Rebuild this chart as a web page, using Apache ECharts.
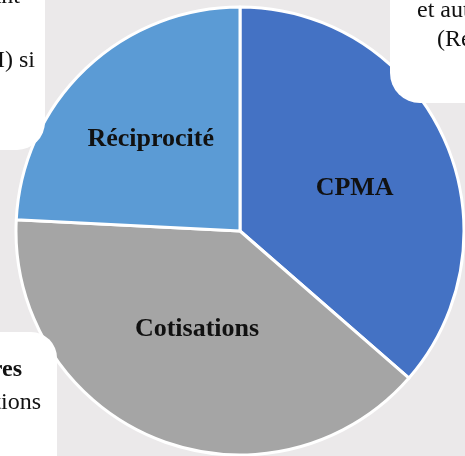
<!DOCTYPE html>
<html>
<head>
<meta charset="utf-8">
<script src="https://cdn.jsdelivr.net/npm/echarts@6/dist/echarts.min.js"></script>
<style>
  html, body { margin: 0; padding: 0; background: #ebe9ea; }
  #chart { width: 465px; height: 456px; }
</style>
</head>
<body>
<div id="chart"></div>
<script>
// parts of the pie (%)
var categories = ['CPMA', 'Cotisations', 'Réciprocité'];
var shares = [36.4, 39.4, 24.2];
var colors = ['#4472C4', '#A5A5A5', '#5B9BD5'];

var chart = echarts.init(document.getElementById('chart'));

var pieData = [];
for (var i = 0; i < categories.length; i++) {
    pieData.push({ name: categories[i], value: shares[i], itemStyle: { color: colors[i] } });
}
// nudge the inner labels to where they sit in the original
pieData[0].label = { offset: [10, 5] };
pieData[1].label = { offset: [0, -8] };
pieData[2].label = { offset: [-10, -8] };

var serif = 'Liberation Serif';

function boxText(x, y, txt, align, bold) {
    return {
        type: 'text', z: 11, x: x, y: y,
        style: {
            text: txt, align: align, fill: '#111111',
            fontFamily: serif, fontSize: 24, fontWeight: bold ? 'bold' : 'normal'
        }
    };
}

var option = {
    backgroundColor: '#ebe9ea',
    animation: false,
    series: [{
        type: 'pie',
        center: [240, 231],
        radius: 224,
        startAngle: 90,
        clockwise: true,
        data: pieData,
        itemStyle: { borderColor: '#ffffff', borderWidth: 3 },
        label: {
            show: true,
            position: 'inner',
            formatter: '{b}',
            color: '#111111',
            fontFamily: serif,
            fontWeight: 'bold',
            fontSize: 26
        },
        labelLine: { show: false },
        z: 1
    }],
    // callout boxes that overlap the chart, cut by the frame
    graphic: [
        {
            type: 'rect', z: 10,
            shape: { x: -120, y: -30, width: 165, height: 180, r: [0, 0, 28, 0] },
            style: { fill: '#ffffff' }
        },
        boxText(20, -15, 'Montant', 'right'),
        boxText(35, 49, '(RAMI) si', 'right'),
        {
            type: 'rect', z: 10,
            shape: { x: 390, y: -30, width: 120, height: 133, r: [0, 0, 0, 30] },
            style: { fill: '#ffffff' }
        },
        boxText(417, -1, 'et autres', 'left'),
        boxText(437, 28, '(Régime', 'left'),
        {
            type: 'rect', z: 10,
            shape: { x: -120, y: 332, width: 177, height: 160, r: [0, 26, 0, 0] },
            style: { fill: '#ffffff' }
        },
        boxText(22, 358, 'Autres', 'right', true),
        boxText(41, 391, 'contributions', 'right')
    ]
};

chart.setOption(option);
</script>
</body>
</html>
